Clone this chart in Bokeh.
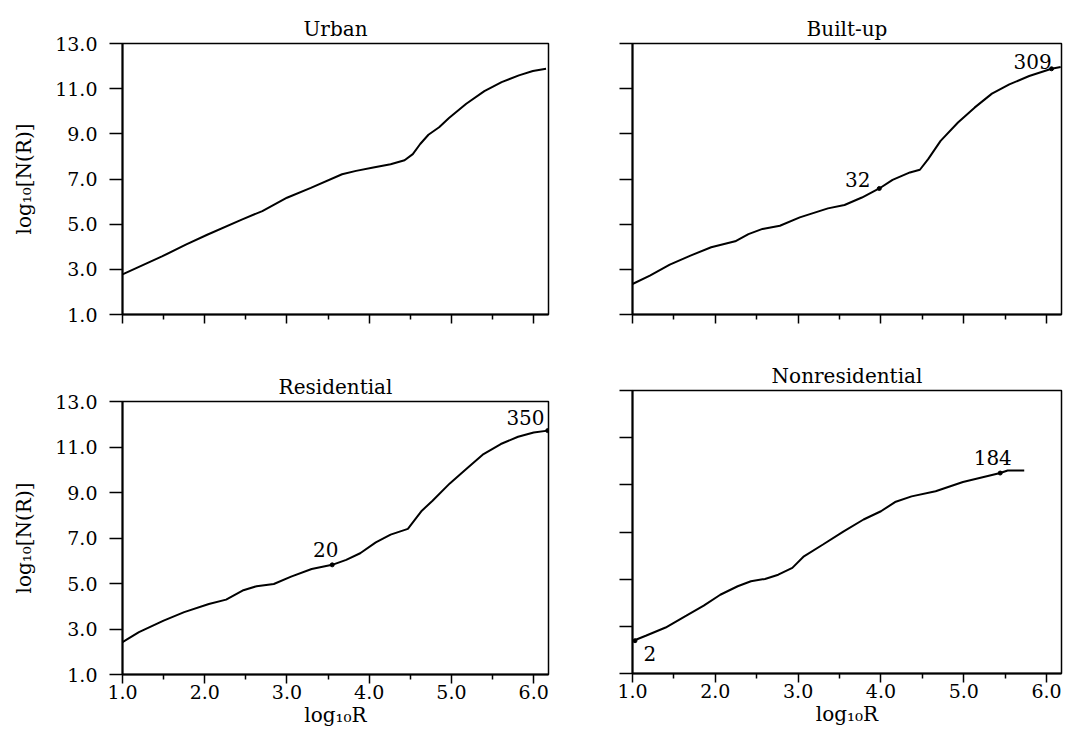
from bokeh.plotting import figure
from bokeh.layouts import column, row
from bokeh.models import Range1d, FixedTicker, PrintfTickFormatter
from bokeh.core.properties import value
from bokeh.embed import file_html
from bokeh.resources import INLINE

FONT = "DejaVu Serif"
FS = "19px"
TFS = "20px"

# ---- data -------------------------------------------------------------
titles = ["Urban", "Built-up", "Residential", "Nonresidential"]
x_ticks = [1.0, 2.0, 3.0, 4.0, 5.0, 6.0]
x_minor = [1.5, 2.5, 3.5, 4.5, 5.5]
y_ticks = [1.0, 3.0, 5.0, 7.0, 9.0, 11.0, 13.0]
x_label = "log\u2081\u2080R"
y_label = "log\u2081\u2080[N(R)]"

urban_x = [1.0, 1.48, 1.77, 2.03, 2.45, 2.70, 3.0, 3.29, 3.67, 3.84, 4.05, 4.26,
           4.43, 4.53, 4.62, 4.72, 4.85, 4.97, 5.18, 5.40, 5.61, 5.82, 5.99, 6.15]
urban_y = [2.78, 3.57, 4.09, 4.53, 5.20, 5.58, 6.17, 6.61, 7.21, 7.36, 7.51, 7.65,
           7.83, 8.10, 8.55, 8.96, 9.29, 9.70, 10.33, 10.89, 11.29, 11.59, 11.78, 11.88]

builtup_x = [1.0, 1.21, 1.45, 1.70, 1.95, 2.24, 2.40, 2.57, 2.78, 3.02, 3.36, 3.56,
             3.77, 3.98, 4.14, 4.35, 4.47, 4.57, 4.72, 4.93, 5.13, 5.34, 5.55, 5.79,
             6.06, 6.17]
builtup_y = [2.35, 2.72, 3.21, 3.61, 3.98, 4.24, 4.56, 4.79, 4.93, 5.30, 5.70, 5.85,
             6.18, 6.58, 6.96, 7.29, 7.41, 7.88, 8.69, 9.50, 10.16, 10.78, 11.19, 11.56,
             11.88, 11.96]

resid_x = [1.0, 1.2, 1.50, 1.75, 2.05, 2.26, 2.46, 2.63, 2.84, 3.05, 3.30, 3.55,
           3.72, 3.89, 4.08, 4.26, 4.47, 4.64, 4.77, 4.98, 5.18, 5.39, 5.60, 5.81,
           6.00, 6.17]
resid_y = [2.42, 2.86, 3.37, 3.74, 4.10, 4.29, 4.69, 4.88, 4.98, 5.30, 5.64, 5.82,
           6.04, 6.33, 6.81, 7.15, 7.40, 8.20, 8.64, 9.40, 10.03, 10.69, 11.13, 11.45,
           11.64, 11.72]

nonres_x = [1.01, 1.16, 1.40, 1.65, 1.86, 2.06, 2.27, 2.43, 2.60, 2.76, 2.93, 3.07,
            3.30, 3.55, 3.79, 4.00, 4.17, 4.37, 4.66, 4.99, 5.24, 5.44, 5.53, 5.73]
nonres_y = [2.39, 2.60, 2.95, 3.45, 3.88, 4.34, 4.70, 4.91, 5.01, 5.19, 5.48, 5.97,
            6.47, 7.03, 7.53, 7.88, 8.27, 8.51, 8.73, 9.12, 9.33, 9.50, 9.61, 9.61]

# marked points on the curves and their numbers
builtup_mark_x = [3.98, 6.06]
builtup_mark_y = [6.58, 11.88]
builtup_mark_text = ["32", "309"]
builtup_text_x = [3.72, 5.83]
builtup_text_y = [7.0, 12.2]

resid_mark_x = [3.55, 6.17]
resid_mark_y = [5.82, 11.72]
resid_mark_text = ["20", "350"]
resid_text_x = [3.47, 5.90]
resid_text_y = [6.48, 12.3]

nonres_mark_x = [1.03, 5.44]
nonres_mark_y = [2.39, 9.50]
nonres_mark_text = ["2", "184"]
nonres_text_x = [1.21, 5.35]
nonres_text_y = [1.85, 10.15]


def make_panel(title, xs, ys, left, bottom, fw, fh, mb_left, mb_right, mb_top, mb_bottom,
               mark=None):
    p = figure(frame_width=fw, frame_height=fh, output_backend="svg", toolbar_location=None,
               x_range=Range1d(1.0, 6.18), y_range=Range1d(1.0, 13.0),
               min_border_left=mb_left, min_border_right=mb_right,
               min_border_top=mb_top, min_border_bottom=mb_bottom,
               background_fill_color="white", border_fill_color="white")
    p.title.text = title
    p.title.align = "center"
    p.title.text_font = FONT
    p.title.text_font_size = TFS
    p.title.text_font_style = "normal"
    p.title.text_color = "black"
    p.title.standoff = 6
    p.grid.visible = False
    p.outline_line_color = "black"
    p.outline_line_width = 1.5
    p.outline_line_alpha = 1.0

    xa = p.xaxis[0]
    xa.ticker = FixedTicker(ticks=x_ticks, minor_ticks=x_minor)
    xa.major_tick_out = 9
    xa.major_tick_in = 0
    xa.minor_tick_out = 5
    xa.minor_tick_in = 0
    xa.axis_line_width = 2
    xa.major_tick_line_width = 1.5
    xa.minor_tick_line_width = 1.5
    xa.major_label_text_font = FONT
    xa.major_label_text_font_size = FS
    xa.major_label_text_color = "black"
    xa.major_label_standoff = 1
    xa.formatter = PrintfTickFormatter(format="%.1f")
    if bottom:
        xa.axis_label = x_label
        xa.axis_label_text_font = FONT
        xa.axis_label_text_font_size = TFS
        xa.axis_label_text_font_style = "normal"
        xa.axis_label_text_color = "black"
        xa.axis_label_standoff = 1
    else:
        xa.major_label_text_color = None

    ya = p.yaxis[0]
    ya.ticker = FixedTicker(ticks=y_ticks)
    ya.major_tick_out = 13
    ya.major_tick_in = 0
    ya.minor_tick_out = 0
    ya.minor_tick_in = 0
    ya.axis_line_width = 2
    ya.major_tick_line_width = 1.5
    ya.major_label_text_font = FONT
    ya.major_label_text_font_size = FS
    ya.major_label_text_color = "black"
    ya.major_label_standoff = 12
    ya.formatter = PrintfTickFormatter(format="%.1f")
    if left:
        ya.axis_label = y_label
        ya.axis_label_text_font = FONT
        ya.axis_label_text_font_size = TFS
        ya.axis_label_text_font_style = "normal"
        ya.axis_label_text_color = "black"
        ya.axis_label_standoff = 16
    else:
        ya.major_label_text_color = None

    p.line(xs, ys, line_color="black", line_width=2)
    if mark is not None:
        mx, my, mt, tx, ty = mark
        p.scatter(mx, my, size=4, color="black")
        p.text(tx, ty, text=mt, text_font=value(FONT), text_font_size=TFS,
               text_align="center", text_baseline="middle", text_color="black")
    return p


p1 = make_panel(titles[0], urban_x, urban_y, True, False, 426, 271, 122, 20, 43, 40)
p2 = make_panel(titles[1], builtup_x, builtup_y, False, False, 429, 271, 64, 2, 43, 40,
                mark=(builtup_mark_x, builtup_mark_y, builtup_mark_text,
                      builtup_text_x, builtup_text_y))
p3 = make_panel(titles[2], resid_x, resid_y, True, True, 426, 273, 122, 20, 47, 56,
                mark=(resid_mark_x, resid_mark_y, resid_mark_text,
                      resid_text_x, resid_text_y))
p4 = make_panel(titles[3], nonres_x, nonres_y, False, True, 429, 283, 64, 2, 36, 57,
                mark=(nonres_mark_x, nonres_mark_y, nonres_mark_text,
                      nonres_text_x, nonres_text_y))

layout = row(column(p1, p3), column(p2, p4))

open("out.html", "w").write(file_html(layout, INLINE))
